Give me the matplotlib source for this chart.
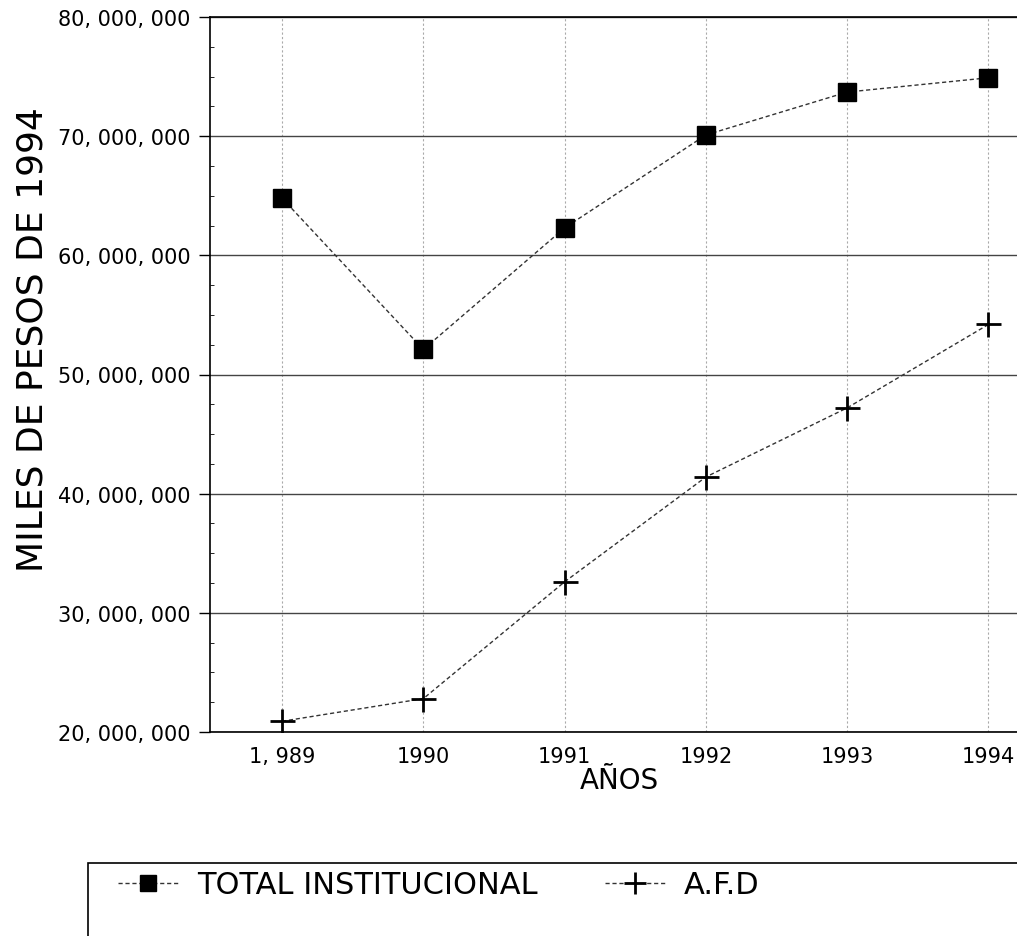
import matplotlib
matplotlib.use("Agg")
import matplotlib.pyplot as plt
from matplotlib.patches import Rectangle
from matplotlib.lines import Line2D
import numpy as np

years = ["1, 989", "1990", "1991", "1992", "1993", "1994"]
total_institucional = [64.8e6, 52.1e6, 62.3e6, 70.1e6, 73.7e6, 74.9e6]
afd = [20.9e6, 22.8e6, 32.6e6, 41.4e6, 47.2e6, 54.2e6]
y_ticks = [20e6, 30e6, 40e6, 50e6, 60e6, 70e6, 80e6]
y_tick_labels = ["20, 000, 000", "30, 000, 000", "40, 000, 000", "50, 000, 000",
                 "60, 000, 000", "70, 000, 000", "80, 000, 000"]

W, H = 1017, 937
fig = plt.figure(figsize=(W / 100, H / 100), dpi=100)
left, top, bottom, right = 210, 18, 733, 1028
ax = fig.add_axes([left / W, (H - bottom) / H, (right - left) / W, (bottom - top) / H])

x = np.arange(len(years))
line_kw = dict(color="#333333", lw=1.0, ls=(0, (3, 2)), zorder=3)
ax.plot(x, total_institucional, marker="s", markersize=13,
        markerfacecolor="black", markeredgecolor="black", **line_kw)
ax.plot(x, afd, marker="+", markersize=18, markeredgewidth=2,
        markeredgecolor="black", **line_kw)

ax.set_xlim(-0.51, 5.28)
ax.set_ylim(20e6, 80e6)
ax.set_yticks(y_ticks)
ax.set_yticklabels(y_tick_labels, fontsize=15)
ax.set_xticks(x)
ax.set_xticklabels(years, fontsize=15)
ax.tick_params(axis="x", length=0, pad=10)
ax.tick_params(axis="y", length=8, width=1, direction="out", pad=6)
ax.set_yticks(np.arange(20e6, 80e6, 2.5e6), minor=True)
ax.tick_params(axis="y", which="minor", length=3, direction="in")

ax.yaxis.grid(True, color="#444444", lw=1.0, ls="-")
ax.xaxis.grid(True, color="#aaaaaa", lw=0.8, ls=(0, (2, 2)))
ax.set_axisbelow(True)
for s in ax.spines.values():
    s.set_color("black")
    s.set_linewidth(1.2)

ax.set_xlabel("AÑOS", fontsize=20, labelpad=0)
fig.text(33 / W, 1 - 340 / H, "MILES DE PESOS DE 1994", rotation=90,
         fontsize=26, ha="center", va="center")

# legend box
fig.patches.append(Rectangle((88 / W, -0.01), (W + 10 - 88) / W, (H - 864) / H + 0.01,
                             transform=fig.transFigure, fill=False,
                             edgecolor="black", lw=1.2))
h1 = Line2D([], [], marker="s", markersize=12, markerfacecolor="black",
            markeredgecolor="black", **line_kw)
h2 = Line2D([], [], marker="+", markersize=16, markeredgewidth=2,
            markeredgecolor="black", **line_kw)
fig.legend([h1, h2], ["TOTAL INSTITUCIONAL", "A.F.D"], loc="center left",
           bbox_to_anchor=(90 / W, 1 - 886 / H), ncol=2, frameon=False,
           prop={"size": 22}, handlelength=2.0,
           columnspacing=2.2, handletextpad=0.6)

fig.savefig("out.png", dpi=100)
